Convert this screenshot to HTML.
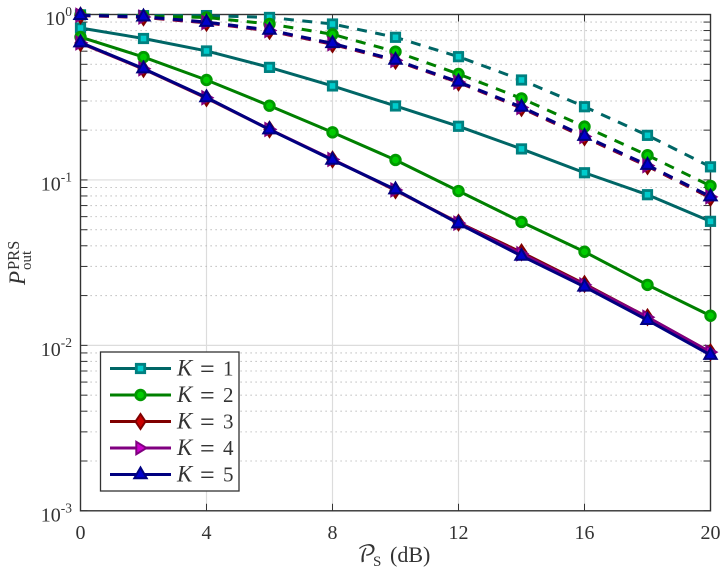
<!DOCTYPE html>
<html>
<head>
<meta charset="utf-8">
<style>
html,body{margin:0;padding:0;background:#fff;width:728px;height:576px;overflow:hidden}
svg{display:block}
text{font-family:"Liberation Serif",serif;fill:#333}
</style>
</head>
<body>
<svg id="chart" width="728" height="576" viewBox="0 0 728 576" xmlns="http://www.w3.org/2000/svg"></svg>
<script>
const snrDb = [0,2,4,6,8,10,12,14,16,18,20];
const xTicks = [0,4,8,12,16,20];
const yDecades = [0,-1,-2,-3];
const minorFactors = [2,3,4,5,6,7,8,9];
const seriesKeys = ['k1','k2','k3','k4','k5'];
const legendLabels = ['1','2','3','4','5'];

const k1Solid = [0.829,0.716,0.602,0.479,0.370,0.280,0.211,0.154,0.1105,0.0814,0.0562];
const k2Solid = [0.731,0.553,0.402,0.281,0.194,0.132,0.0857,0.0557,0.0368,0.0232,0.0151];
const k3Solid = [0.672,0.468,0.312,0.202,0.133,0.0865,0.0552,0.0365,0.0235,0.0148,0.0091];
const k4Solid = [0.674,0.470,0.314,0.202,0.133,0.087,0.0548,0.0358,0.0232,0.0148,0.0091];
const k5Solid = [0.677,0.471,0.315,0.2017,0.132,0.0875,0.0545,0.0347,0.0226,0.0142,0.00874];

const k1Dashed = [0.995,0.985,0.985,0.96,0.876,0.728,0.556,0.402,0.277,0.186,0.120];
const k2Dashed = [0.995,0.975,0.96,0.876,0.759,0.596,0.437,0.311,0.210,0.141,0.092];
const k3Dashed = [0.985,0.96,0.89,0.795,0.66,0.525,0.388,0.272,0.181,0.121,0.078];
const k4Dashed = [0.99,0.965,0.895,0.80,0.665,0.528,0.39,0.274,0.183,0.122,0.079];
const k5Dashed = [0.99,0.97,0.90,0.806,0.669,0.531,0.392,0.276,0.184,0.123,0.0793];

const SVGNS = 'http://www.w3.org/2000/svg';
const svg = document.getElementById('chart');
const L = 80.5, R = 710.5, T = 14.5, B = 510.8;
function xScale(v){ return L + (v - 0) / 20 * (R - L); }
function yScale(v){ return T + (0 - Math.log10(v)) / 3 * (B - T); }

function make(tag, attrs, parent){
  const el = document.createElementNS(SVGNS, tag);
  for (const k in attrs) el.setAttribute(k, attrs[k]);
  (parent || svg).appendChild(el);
  return el;
}

const gridLayer = make('g', {});


const axisLayer = make('g', {});



/* grid */
xTicks.forEach(function(t){
  if (t === 0 || t === 20) return;
  const g = make('line', {x1:xScale(t), x2:xScale(t), y1:T, y2:B, stroke:'#dcdcdc', 'stroke-width':1.2}, gridLayer);
  
  
});
yDecades.forEach(function(d){
  if (d === 0 || d === -3) return;
  const g = make('line', {x1:L, x2:R, y1:yScale(Math.pow(10,d)), y2:yScale(Math.pow(10,d)), stroke:'#dcdcdc', 'stroke-width':1.2}, gridLayer);
  
  
});
yDecades.forEach(function(d){
  if (d === 0) return;
  minorFactors.forEach(function(f){
    const v = f * Math.pow(10, d);
    const g = make('line', {x1:L, x2:R, y1:yScale(v), y2:yScale(v), stroke:'#b4b4b4', 'stroke-width':1.1, 'stroke-dasharray':'1.2 3.8'}, gridLayer);
    
    
    [[L, L+7],[R-7, R]].forEach(function(p){
      const tk = make('line', {x1:p[0], x2:p[1], y1:yScale(v), y2:yScale(v), stroke:'#333', 'stroke-width':1}, axisLayer);
      
      
    });
  });
});

/* frame */
const frame = make('rect', {x:L, y:T, width:R-L, height:B-T, fill:'none', stroke:'#333', 'stroke-width':1.4}, axisLayer);



/* x ticks and labels */
xTicks.forEach(function(t){
  [[B-7,B],[T,T+7]].forEach(function(p){
    const tk = make('line', {x1:xScale(t), x2:xScale(t), y1:p[0], y2:p[1], stroke:'#333', 'stroke-width':1}, axisLayer);
    
    
  });
  const lb = make('text', {x:xScale(t), y:539, 'font-size':20, 'text-anchor':'middle'}, axisLayer);
  lb.textContent = String(t);
  
  
});

/* y ticks and labels */
yDecades.forEach(function(d){
  const y = yScale(Math.pow(10, d));
  [[L,L+7],[R-7,R]].forEach(function(p){
    const tk = make('line', {x1:p[0], x2:p[1], y1:y, y2:y, stroke:'#333', 'stroke-width':1}, axisLayer);
    
    
  });
  const lb = make('text', {x:72, y:y+10.5, 'font-size':20, 'text-anchor':'end'}, axisLayer);
  
  
  const base = make('tspan', {}, lb);
  base.textContent = '10';
  const sup = make('tspan', {dy:-9, 'font-size':13.5}, lb);
  sup.textContent = String(d);
});

/* series */
const seriesStyles = {
  k1:{line:'#006666', edge:'#008080', face:'#00cccc', mark:'square'},
  k2:{line:'#008000', edge:'#009900', face:'#00cc00', mark:'circle'},
  k3:{line:'#800000', edge:'#800000', face:'#cc0000', mark:'diamond'},
  k4:{line:'#800080', edge:'#800080', face:'#cc00cc', mark:'right'},
  k5:{line:'#000080', edge:'#000080', face:'#0000cc', mark:'up'}
};

function drawMarker(parent, kind, x, y, st){
  const common = {fill:st.face, stroke:st.edge, 'stroke-width':2};
  let el;
  if (kind === 'square'){
    el = make('rect', Object.assign({x:x-4.2, y:y-4.2, width:8.4, height:8.4}, common, {'stroke-width':2.8}), parent);
  } else if (kind === 'circle'){
    el = make('circle', Object.assign({cx:x, cy:y, r:4.8}, common, {'stroke-width':2.8}), parent);
  } else if (kind === 'diamond'){
    el = make('polygon', Object.assign({points:[[x,y-7.5],[x+5,y],[x,y+7.5],[x-5,y]].join(' ')}, common), parent);
  } else if (kind === 'right'){
    el = make('polygon', Object.assign({points:[[x-4.2,y-6.2],[x+6,y],[x-4.2,y+6.2]].join(' ')}, common), parent);
  } else {
    el = make('polygon', Object.assign({points:[[x,y-7],[x+6.2,y+3.8],[x-6.2,y+3.8]].join(' ')}, common), parent);
  }
  return el;
}

function drawSeries(values, key, dashed){
  const st = seriesStyles[key];
  const g = make('g', {});
  
  
  const pts = values.map(function(v,i){ return xScale(snrDb[i]) + ',' + yScale(v); }).join(' ');
  const attrs = {points:pts, fill:'none', stroke:st.line, 'stroke-width':3, 'stroke-linejoin':'round'};
  if (dashed) attrs['stroke-dasharray'] = '10 8.5';
  const line = make('polyline', attrs, g);
  
  
  values.forEach(function(v,i){
    const m = drawMarker(g, st.mark, xScale(snrDb[i]), yScale(v), st);
    
    
  });
}

const solidSeries = [k1Solid,k2Solid,k3Solid,k4Solid,k5Solid];
const dashedSeries = [k1Dashed,k2Dashed,k3Dashed,k4Dashed,k5Dashed];
seriesKeys.forEach(function(key,i){
  drawSeries(dashedSeries[i], key, true);
  drawSeries(solidSeries[i], key, false);
});

/* legend */
const legend = make('g', {});


const lbox = make('rect', {x:100.5, y:352, width:138.5, height:139, fill:'#fff', stroke:'#333', 'stroke-width':1.3}, legend);


seriesKeys.forEach(function(key,i){
  const st = seriesStyles[key];
  const y = 368.5 + i * 26.5;
  const e = make('g', {}, legend);
  
  
  make('line', {x1:110, x2:171, y1:y, y2:y, stroke:st.line, 'stroke-width':3}, e);
  drawMarker(e, st.mark, 140.5, y, st);
  const k = make('text', {x:177, y:y+7, 'font-size':23, 'font-style':'italic'}, e);
  k.textContent = 'K';
  const eq = make('text', {x:200, y:y+9, 'font-size':26}, e);
  eq.textContent = '=';
  const n = make('text', {x:223, y:y+7, 'font-size':21}, e);
  n.textContent = legendLabels[i];
});
</script>
<svg style="position:absolute;left:0;top:0" width="728" height="576">
  <g>
    <text x="357" y="562" font-size="23" style="font-family:'DejaVu Math TeX Gyre','Liberation Serif',serif">𝒫</text>
    <text x="373" y="566" font-size="15">S</text>
    <text x="390" y="562" font-size="22">(dB)</text>
  </g>
  <g transform="translate(25,285) rotate(-90)">
    <text x="0" y="0" font-size="23" font-style="italic">P</text>
    <text x="15" y="-6" font-size="16.5">PRS</text>
    <text x="15" y="6" font-size="15">out</text>
  </g>
</svg>
</body>
</html>
